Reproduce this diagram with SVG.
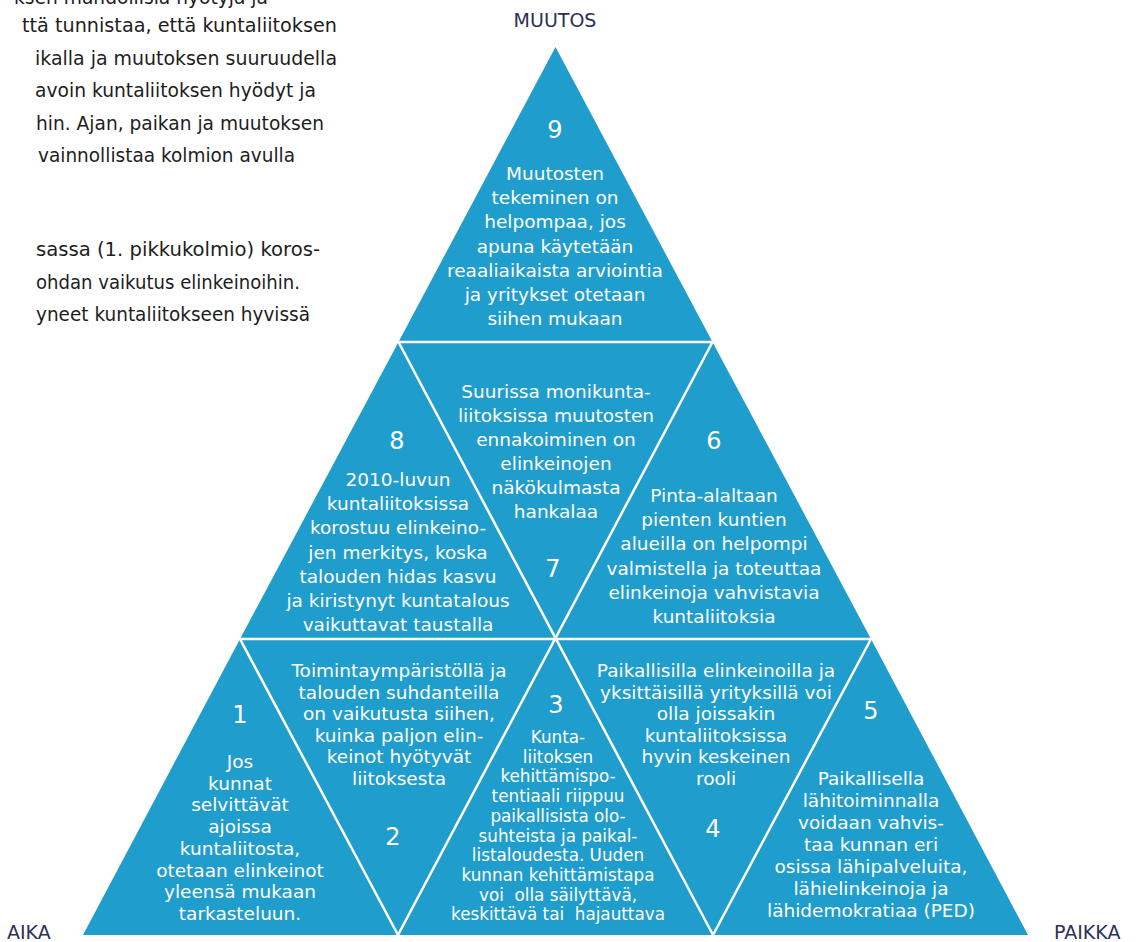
<svg xmlns="http://www.w3.org/2000/svg" width="1139" height="942" viewBox="0 0 1139 942">
<style>
.tri{fill:#1f9dcc}
.sep{stroke:#fff;stroke-width:2.5;fill:none;stroke-linecap:butt}
.t{font-family:"DejaVu Sans","Liberation Sans",sans-serif;font-size:18.5px;fill:#fff;text-anchor:middle}
.s{font-size:16.8px;white-space:pre}
.n{font-family:"DejaVu Sans","Liberation Sans",sans-serif;font-size:24px;fill:#fff;text-anchor:middle}
.lab{font-family:"DejaVu Sans","Liberation Sans",sans-serif;font-size:19px;fill:#2b3157}
.body{font-family:"DejaVu Sans","Liberation Sans",sans-serif;font-size:19px;fill:#1d1d22}
</style>
<rect width="1139" height="942" fill="#fff"/>
<g id="intro">
<text class="body" x="14" y="4" textLength="254" lengthAdjust="spacingAndGlyphs">ksen mahdollisia hyötyjä ja</text>
<text class="body" x="22" y="32" textLength="315" lengthAdjust="spacingAndGlyphs">ttä tunnistaa, että kuntaliitoksen</text>
<text class="body" x="35" y="64.5" textLength="302" lengthAdjust="spacingAndGlyphs">ikalla ja muutoksen suuruudella</text>
<text class="body" x="35" y="97" textLength="281" lengthAdjust="spacingAndGlyphs">avoin kuntaliitoksen hyödyt ja</text>
<text class="body" x="36" y="129.5" textLength="288" lengthAdjust="spacingAndGlyphs">hin. Ajan, paikan ja muutoksen</text>
<text class="body" x="38" y="162" textLength="257" lengthAdjust="spacingAndGlyphs">vainnollistaa kolmion avulla</text>
<text class="body" x="36" y="256" textLength="284" lengthAdjust="spacingAndGlyphs">sassa (1. pikkukolmio) koros-</text>
<text class="body" x="36" y="288.5" textLength="264" lengthAdjust="spacingAndGlyphs">ohdan vaikutus elinkeinoihin.</text>
<text class="body" x="36" y="321" textLength="274" lengthAdjust="spacingAndGlyphs">yneet kuntaliitokseen hyvissä</text>
</g>
<g id="labels">
<text class="lab" x="555" y="27" text-anchor="middle">MUUTOS</text>
<text class="lab" x="7" y="939">AIKA</text>
<text class="lab" x="1054" y="939">PAIKKA</text>
</g>
<g id="tri9">
<polygon class="tri" points="555.5,47 398.5,342 712.5,342"/>
<text class="n" x="555" y="138">9</text>
<text class="t" x="555"><tspan x="555" y="180">Muutosten</tspan><tspan x="555" y="204.2">tekeminen on</tspan><tspan x="555" y="228.4">helpompaa, jos</tspan><tspan x="555" y="252.6">apuna käytetään</tspan><tspan x="555" y="276.8">reaaliaikaista arviointia</tspan><tspan x="555" y="301">ja yritykset otetaan</tspan><tspan x="555" y="325.2">siihen mukaan</tspan></text>
</g>
<g id="tri8">
<polygon class="tri" points="398.5,342 240,639 555.5,639"/>
<text class="n" x="397" y="449">8</text>
<text class="t"><tspan x="398" y="486">2010-luvun</tspan><tspan x="398" y="510.2">kuntaliitoksissa</tspan><tspan x="398" y="534.4">korostuu elinkeino-</tspan><tspan x="398" y="558.6">jen merkitys, koska</tspan><tspan x="398" y="582.8">talouden hidas kasvu</tspan><tspan x="398" y="607">ja kiristynyt kuntatalous</tspan><tspan x="398" y="631.2">vaikuttavat taustalla</tspan></text>
</g>
<g id="tri7">
<polygon class="tri" points="398.5,342 712.5,342 555.5,639"/>
<text class="t"><tspan x="556" y="398">Suurissa monikunta-</tspan><tspan x="556" y="422">liitoksissa muutosten</tspan><tspan x="556" y="446">ennakoiminen on</tspan><tspan x="556" y="470">elinkeinojen</tspan><tspan x="556" y="494">näkökulmasta</tspan><tspan x="556" y="518">hankalaa</tspan></text>
<text class="n" x="553" y="577">7</text>
</g>
<g id="tri6">
<polygon class="tri" points="712.5,342 555.5,639 871,639"/>
<text class="n" x="714" y="449">6</text>
<text class="t"><tspan x="714" y="502">Pinta-alaltaan</tspan><tspan x="714" y="526.2">pienten kuntien</tspan><tspan x="714" y="550.4">alueilla on helpompi</tspan><tspan x="714" y="574.6">valmistella ja toteuttaa</tspan><tspan x="714" y="598.8">elinkeinoja vahvistavia</tspan><tspan x="714" y="623">kuntaliitoksia</tspan></text>
</g>
<g id="tri1">
<polygon class="tri" points="240,639 83,935 398,935"/>
<text class="n" x="240" y="723">1</text>
<text class="t"><tspan x="240" y="768">Jos</tspan><tspan x="240" y="789.7">kunnat</tspan><tspan x="240" y="811.4">selvittävät</tspan><tspan x="240" y="833.1">ajoissa</tspan><tspan x="240" y="854.8">kuntaliitosta,</tspan><tspan x="240" y="876.5">otetaan elinkeinot</tspan><tspan x="240" y="898.2">yleensä mukaan</tspan><tspan x="240" y="919.9">tarkasteluun.</tspan></text>
</g>
<g id="tri2">
<polygon class="tri" points="240,639 555.5,639 398,935"/>
<text class="t"><tspan x="399" y="677">Toimintaympäristöllä ja</tspan><tspan x="399" y="698.6">talouden suhdanteilla</tspan><tspan x="399" y="720.2">on vaikutusta siihen,</tspan><tspan x="399" y="741.8">kuinka paljon elin-</tspan><tspan x="399" y="763.4">keinot hyötyvät</tspan><tspan x="399" y="785">liitoksesta</tspan></text>
<text class="n" x="393" y="845">2</text>
</g>
<g id="tri3">
<polygon class="tri" points="555.5,639 398,935 713,935"/>
<text class="n" x="556" y="713">3</text>
<text class="t s"><tspan x="558" y="743">Kunta-</tspan><tspan x="558" y="762.7">liitoksen</tspan><tspan x="558" y="782.4">kehittämispo-</tspan><tspan x="558" y="802.1">tentiaali riippuu</tspan><tspan x="558" y="821.8">paikallisista olo-</tspan><tspan x="558" y="841.5">suhteista ja paikal-</tspan><tspan x="558" y="861.2">listaloudesta. Uuden</tspan><tspan x="558" y="880.9">kunnan kehittämistapa</tspan><tspan x="558" y="900.6">voi  olla säilyttävä,</tspan><tspan x="558" y="920.3">keskittävä tai  hajauttava</tspan></text>
</g>
<g id="tri4">
<polygon class="tri" points="555.5,639 871,639 713,935"/>
<text class="t"><tspan x="716" y="677">Paikallisilla elinkeinoilla ja</tspan><tspan x="716" y="698.6">yksittäisillä yrityksillä voi</tspan><tspan x="716" y="720.2">olla joissakin</tspan><tspan x="716" y="741.8">kuntaliitoksissa</tspan><tspan x="716" y="763.4">hyvin keskeinen</tspan><tspan x="716" y="785">rooli</tspan></text>
<text class="n" x="713" y="837">4</text>
</g>
<g id="tri5">
<polygon class="tri" points="871,639 713,935 1028,935"/>
<text class="n" x="871" y="719">5</text>
<text class="t"><tspan x="871" y="785">Paikallisella</tspan><tspan x="871" y="807">lähitoiminnalla</tspan><tspan x="871" y="829">voidaan vahvis-</tspan><tspan x="871" y="851">taa kunnan eri</tspan><tspan x="871" y="873">osissa lähipalveluita,</tspan><tspan x="871" y="895">lähielinkeinoja ja</tspan><tspan x="871" y="917">lähidemokratiaa (PED)</tspan></text>
</g>
<g id="separators">
<line class="sep" x1="398.5" y1="342" x2="712.5" y2="342"/>
<line class="sep" x1="240" y1="639" x2="871" y2="639"/>
<line class="sep" x1="398.5" y1="342" x2="713" y2="935"/>
<line class="sep" x1="712.5" y1="342" x2="398" y2="935"/>
<line class="sep" x1="240" y1="639" x2="398" y2="935"/>
<line class="sep" x1="871" y1="639" x2="713" y2="935"/>
</g>
</svg>
